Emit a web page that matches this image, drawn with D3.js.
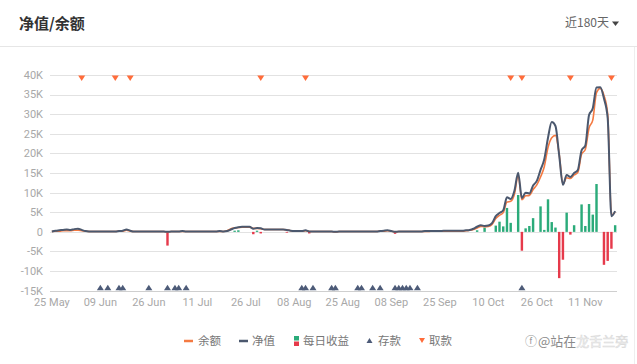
<!DOCTYPE html>
<html><head><meta charset="utf-8">
<script src="https://cdn.jsdelivr.net/npm/d3@7/dist/d3.min.js"></script>
<style>
html,body{margin:0;padding:0;background:#fff;}
svg{display:block;}
</style></head>
<body><svg id="c" width="637" height="364"></svg>
<script>
// ---------- data ----------
const title = "净值/余额";
const rangeLabel = "近180天";
const dayCount = 152;
const tickIndex = [0, 13, 26, 39, 52, 65, 78, 91, 104, 117, 130, 143];
const tickLabels = ["25 May","09 Jun","26 Jun","11 Jul","26 Jul","08 Aug","25 Aug","08 Sep","25 Sep","10 Oct","26 Oct","11 Nov"];
const yTicks = [-15000,-10000,-5000,0,5000,10000,15000,20000,25000,30000,35000,40000];

// 净值 (K)
const netValue = [
 0.1,0.3,0.4,0.5,0.6,0.5,0.7,0.8,0.5,0.2,
 0.1,0.1,0.1,0.1,0.1,0.1,0.1,0.1,0.2,0.3,
 0.6,0.3,0.1,0.1,0.1,0.1,0.1,0.1,0.1,0.1,
 0.1,0.0,0.1,0.1,0.1,0.2,0.1,0.1,0.1,0.1,
 0.1,0.1,0.1,0.1,0.1,0.2,0.1,0.2,0.6,1.0,
 1.2,1.3,1.3,1.3,0.8,1.0,0.9,0.6,0.6,0.6,
 0.6,0.6,0.6,0.5,0.3,0.2,0.2,0.2,0.4,0.1,
 0.1,0.1,0.1,0.1,0.1,0.1,0.0,0.1,0.1,0.1,
 0.1,0.1,0.1,0.1,0.1,0.1,0.1,0.1,0.2,0.3,
 0.4,0.2,0.0,0.1,0.1,0.1,0.1,0.1,0.1,0.1,
 0.2,0.2,0.2,0.2,0.2,0.3,0.3,0.3,0.3,0.3,
 0.3,0.4,0.5,0.8,1.3,1.7,1.5,1.6,2.2,4.0,
 4.8,5.5,8.8,8.4,10.5,15.1,8.6,10.0,9.8,11.8,
 13.0,15.8,18.5,24.0,28.0,27.0,19.5,12.0,14.5,14.0,
 15.0,15.8,20.8,22.0,29.8,31.5,36.8,36.9,34.0,29.0,
 4.0,5.3
];
// 余额 (K)
const balance = [
 0.1,0.2,0.2,0.3,0.3,0.3,0.4,0.4,0.3,0.2,
 0.1,0.1,0.1,0.1,0.1,0.1,0.1,0.1,0.2,0.2,
 0.4,0.2,0.1,0.1,0.1,0.1,0.1,0.1,0.1,0.1,
 0.1,0.0,0.1,0.1,0.1,0.1,0.1,0.1,0.1,0.1,
 0.1,0.1,0.1,0.1,0.1,0.1,0.1,0.3,0.8,1.0,
 1.1,1.2,1.2,1.2,0.9,0.9,0.8,0.6,0.6,0.6,
 0.6,0.6,0.6,0.5,0.3,0.2,0.2,0.2,0.3,0.1,
 0.1,0.1,0.1,0.1,0.1,0.1,0.0,0.1,0.1,0.1,
 0.1,0.1,0.1,0.1,0.1,0.1,0.1,0.1,0.2,0.2,
 0.3,0.2,0.0,0.1,0.1,0.1,0.1,0.1,0.1,0.1,
 0.1,0.1,0.2,0.2,0.2,0.2,0.2,0.2,0.2,0.2,
 0.2,0.3,0.4,0.6,1.0,1.4,1.3,1.4,1.9,3.4,
 4.2,4.9,7.6,7.8,9.6,14.4,8.2,9.2,9.3,10.8,
 12.0,14.0,16.6,21.5,24.0,24.6,19.8,12.2,13.8,13.6,
 14.5,15.2,19.8,21.0,26.5,28.5,35.5,36.6,34.8,30.0,
 4.3,5.0
];
// 每日收益 (K)
const gainDays   = [31, 49, 50, 54, 55, 56, 63, 69, 92, 114, 116, 119, 120, 121, 122, 123, 125, 126, 127, 128, 129, 131, 132, 133, 134, 135, 136, 137, 138, 139, 140, 142, 143, 144, 145, 146, 148, 149, 150, 151];
const gainValues = [-3.5, 0.3, 0.4, -0.6, 0.3, -0.4, -0.2, -0.4, -0.5, 0.4, 1.1, 1.6, 2.6, 1.4, 6.1, 2.3, 9.4, -4.8, 0.9, 1.5, 3.5, 6.5, 0.5, 8.3, 2.5, 1.1, -11.8, -7.1, 4.9, -0.7, 1.7, 7.0, 1.5, 7.1, 4.4, 12.2, -8.4, -7.4, -4.3, 1.7];
// 存款 / 取款 days
const depositDays  = [13,15,18,19,26,31,33,34,36,67,68,70,75,76,82,83,86,88,92,93,94,95,96,98,126];
const withdrawDays = [8,17,21,56,68,123,126,139,150];

const legendItems = ["余额","净值","每日收益","存款","取款"];

// ---------- drawing ----------
const svg = d3.select("#c");
const cjk = "'Noto Sans CJK SC','Noto Sans',sans-serif";
const num = "Roboto,'DejaVu Sans',sans-serif";
const C = {bal:"#f47a42", net:"#4b586e", up:"#2bab7a", down:"#e63a4b", dep:"#4d5b78", wd:"#ff6c3a", grid:"#e2e2e2", axis:"#a8a8a8"};

svg.append("rect").attr("width",637).attr("height",364).attr("fill","#fff");
// header
svg.append("text").attr("x",19).attr("y",29).text(title)
  .attr("font-family",cjk).attr("font-size",15).attr("font-weight","bold").attr("fill","#333");
svg.append("text").attr("x",565).attr("y",27).text(rangeLabel)
  .attr("font-family",cjk).attr("font-size",12).attr("fill","#666");
svg.append("path").attr("d","M612,21.5L619,21.5L615.5,26Z").attr("fill","#444");
svg.append("line").attr("x1",0).attr("x2",637).attr("y1",46.5).attr("y2",46.5).attr("stroke","#e6e6e6");
svg.append("line").attr("x1",634.5).attr("x2",634.5).attr("y1",47).attr("y2",364).attr("stroke","#eeeeee");

const x = d3.scaleBand().domain(d3.range(dayCount)).range([50,617]).paddingInner(0.35).paddingOuter(0.17);
const cx = i => x(i) + x.bandwidth()/2;
const y = d3.scaleLinear().domain([-15000,40000]).range([290.7,75]);

// grid
svg.append("g").selectAll("line").data(yTicks).join("line")
  .attr("x1",50).attr("x2",617).attr("y1",d=>Math.round(y(d))+0.5).attr("y2",d=>Math.round(y(d))+0.5)
  .attr("stroke",d=>d===-15000?"#cfcfcf":C.grid);
// y axis labels
const fmtK = d => d===0 ? "0" : (d/1000)+"K";
svg.append("g").selectAll("text").data(yTicks).join("text")
  .attr("x",43).attr("y",d=>y(d)).attr("dy","0.35em").attr("text-anchor","end")
  .attr("font-family",num).attr("font-size",11).attr("fill",C.axis).text(fmtK);
// x axis labels
svg.append("g").selectAll("text").data(tickIndex).join("text")
  .attr("x",d=>cx(d)).attr("y",306).attr("text-anchor","middle")
  .attr("font-family",num).attr("font-size",11).attr("fill",C.axis).text((d,k)=>tickLabels[k]);

// bars
const bars = gainDays.map((d,k)=>({i:d,v:gainValues[k]*1000}));
svg.append("g").selectAll("rect").data(bars).join("rect")
  .attr("x",d=>x(d.i)).attr("width",x.bandwidth())
  .attr("y",d=>Math.min(y(d.v),y(0))).attr("height",d=>Math.abs(y(d.v)-y(0)))
  .attr("fill",d=>d.v>=0?C.up:C.down);

// lines
const line = d3.line().x(d=>cx(d.i)).y(d=>y(d.v)).curve(d3.curveMonotoneX);
svg.append("path").datum(balance.map((v,i)=>({i,v:v*1000})))
  .attr("d",line).attr("fill","none").attr("stroke",C.bal).attr("stroke-width",1.6);
svg.append("path").datum(netValue.map((v,i)=>({i,v:v*1000})))
  .attr("d",line).attr("fill","none").attr("stroke",C.net).attr("stroke-width",2);

// markers
const yTop = y(40000), yBot = y(-15000);
svg.append("g").selectAll("path").data(withdrawDays).join("path")
  .attr("d",d=>`M${cx(d)-3.5},${yTop+0.5}L${cx(d)+3.5},${yTop+0.5}L${cx(d)},${yTop+6}Z`).attr("fill",C.wd);
svg.append("g").selectAll("path").data(depositDays).join("path")
  .attr("d",d=>`M${cx(d)-3.5},${yBot-0.5}L${cx(d)+3.5},${yBot-0.5}L${cx(d)},${yBot-6}Z`).attr("fill",C.dep);

// legend
const lg = svg.append("g").attr("font-family",cjk).attr("font-size",11.5).attr("fill","#777");
const ly = 341;
lg.append("line").attr("x1",184).attr("x2",193).attr("y1",ly).attr("y2",ly).attr("stroke",C.bal).attr("stroke-width",2.5);
lg.append("text").attr("x",198).attr("y",ly+4).text(legendItems[0]);
lg.append("line").attr("x1",239).attr("x2",248).attr("y1",ly).attr("y2",ly).attr("stroke",C.net).attr("stroke-width",2.5);
lg.append("text").attr("x",252).attr("y",ly+4).text(legendItems[1]);
lg.append("rect").attr("x",294).attr("y",ly-5).attr("width",5).attr("height",4.5).attr("fill",C.up);
lg.append("rect").attr("x",294).attr("y",ly+0.5).attr("width",5).attr("height",4.5).attr("fill",C.down);
lg.append("text").attr("x",303).attr("y",ly+4).text(legendItems[2]);
lg.append("path").attr("d",`M366.5,${ly+2}L372.5,${ly+2}L369.5,${ly-3}Z`).attr("fill",C.dep);
lg.append("text").attr("x",378).attr("y",ly+4).text(legendItems[3]);
lg.append("path").attr("d",`M419,${ly-3}L425,${ly-3}L422,${ly+2}Z`).attr("fill",C.wd);
lg.append("text").attr("x",429).attr("y",ly+4).text(legendItems[4]);

// watermark
const wm = svg.append("text").attr("x",538).attr("y",ly+5).attr("font-family",cjk).attr("font-size",13);
wm.append("tspan").attr("fill","#8a8a8a").text("@站在");
wm.append("tspan").attr("fill","#f4f4f4").attr("stroke","#d8d8d8").attr("stroke-width",0.5).text("龙舌兰旁");
svg.append("text").attr("x",525).attr("y",ly+5).attr("font-family",cjk).attr("font-size",12).attr("fill","#999").text("ⓕ");
</script></body></html>
